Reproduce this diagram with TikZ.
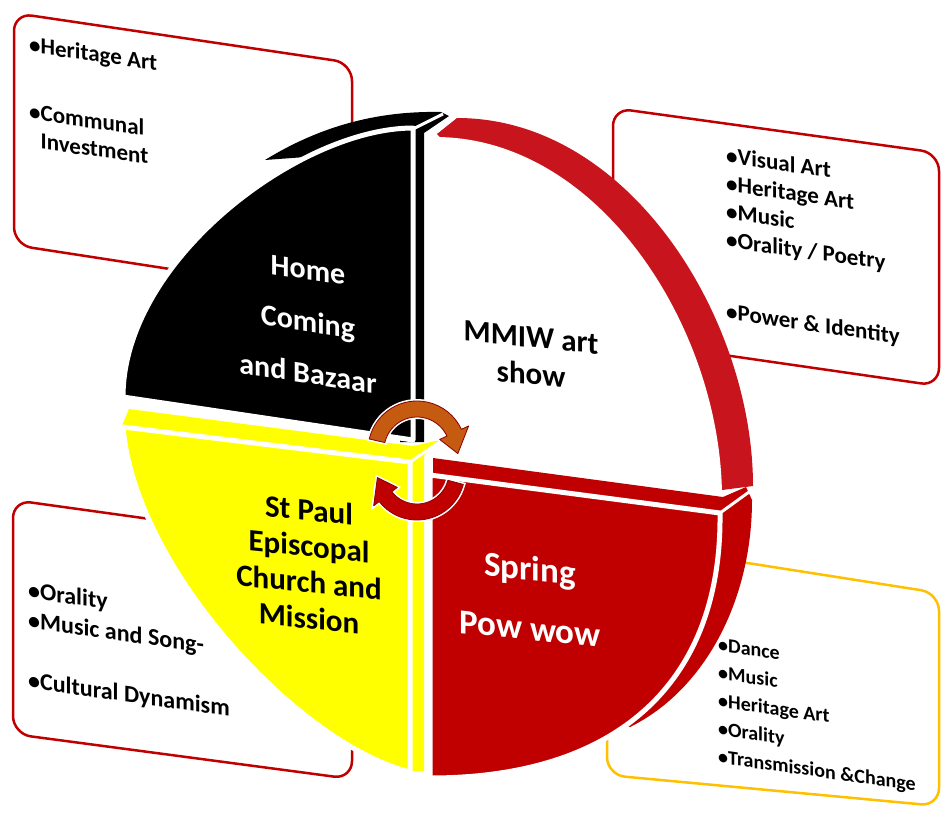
\documentclass[tikz,border=0pt]{standalone}
\usepackage{fontspec}
\setmainfont{Carlito}
\usetikzlibrary{calc}
\definecolor{rd}{HTML}{C00000}
\definecolor{rim}{HTML}{C8141C}
\definecolor{yl}{HTML}{FFFF00}
\definecolor{gd}{HTML}{FFC000}
\definecolor{orr}{HTML}{C55A11}
\definecolor{dkr}{HTML}{8B0000}
\begin{document}
\begin{tikzpicture}[x=1pt,y=-1pt,
  infobox/.style={draw=rd, line width=2.5pt, fill=white, rounded corners=18pt},
  face/.style={draw=white, line width=5pt, line join=round},
  edgeline/.style={draw=white, line width=3pt},
  boxtext/.style={align=left, anchor=north west, inner sep=0pt, yslant=-0.14,
    font=\bfseries\fontsize{23}{28}\selectfont},
  lbl/.style={align=center, inner sep=0pt, yslant=-0.1},
  arrowshape/.style={preaction={draw=white, line width=4pt}, draw=dkr, line width=0.8pt, line join=round}
]
\useasboundingbox (0,0) rectangle (942,817);

% ---------- info boxes ----------
\draw[infobox] (14,13) -- (352,63) -- (352,297) -- (14,245) -- cycle;
\draw[infobox] (613,108) -- (939,153) -- (939,386) -- (613,339) -- cycle;
\draw[infobox] (13,500) -- (352,547) -- (352,779) -- (13,734) -- cycle;
\draw[infobox, draw=gd] (607,541) -- (939,593) -- (939,806) -- (607,775) -- cycle;

\node[boxtext] (t1) at (29,36) {•Heritage Art\\[39pt]•Communal\\\phantom{•}Investment};
\node[boxtext] (t2) at (726,147) {•Visual Art\\•Heritage Art\\•Music\\•Orality / Poetry\\[44pt]•Power \& Identity};
\node[boxtext, font=\bfseries\fontsize{24}{28}\selectfont] (t3) at (28,581) {•Orality\\[2pt]•Music and Song-\\[32pt]•Cultural Dynamism};
\node[boxtext, font=\bfseries\fontsize{20}{28}\selectfont] (t4) at (718,638) {•Dance\\•Music\\•Heritage Art\\•Orality\\•Transmission \&Change};

% ---------- white quadrant (MMIW) with red rim ----------
\fill[rim] (437,134) -- (457,118) .. controls (630,118) and (753,320) .. (753,486) -- (722,490) -- (600,300) -- cycle;
\fill[white] (433,460) -- (435,137) .. controls (600,137) and (722,330) .. (722,498) -- cycle;

% ---------- red quadrant (Spring Pow wow) ----------
\fill[rd] (433,458) -- (723,497) -- (746,487) -- (752,500) .. controls (752,600) and (705,690) .. (630,727) -- (560,700) -- (433,490) -- cycle;
\path[face, fill=rd] (430,475) -- (720,513) .. controls (722,680) and (620,778) .. (430,778) -- cycle;
\draw[edgeline] (720,513) -- (749,492);

% ---------- black quadrant (Home Coming) ----------
\fill[black] (265,160) .. controls (330,120) and (390,111) .. (441,112) -- (449,116) -- (424,133) -- (424,442) -- (400,442) -- (400,150) -- cycle;
\path[face, fill=black] (413,440) -- (413,128) .. controls (300,128) and (123,260) .. (123,397) -- cycle;
\draw[edgeline] (413,129) -- (443,114);

% ---------- yellow quadrant (St Paul) ----------
\fill[yl] (129,409) -- (413,446) -- (440,440) -- (424,455) -- (424,771) -- (400,771) -- (400,470) -- (121,428) -- cycle;
\path[face, fill=yl] (123,427) -- (410,462) -- (410,772) .. controls (300,745) and (135,570) .. (123,427) -- cycle;
\draw[edgeline] (410,462) -- (438,443);

% ---------- circular arrows ----------
\coordinate (c1) at (417,450);
\coordinate (c2) at (417,472);
\path[arrowshape, fill=orr]
  ($(c1)+(193:49)$) arc[start angle=193, end angle=335, radius=49]
  -- ($(c1)+(335:57)$) -- ($(c1)+(5:41)$) -- ($(c1)+(335:25)$)
  -- ($(c1)+(335:33)$) arc[start angle=335, end angle=193, radius=33] -- cycle;
\path[arrowshape, fill=rd]
  ($(c2)+(15:48)$) arc[start angle=15, end angle=142, radius=48]
  -- ($(c2)+(142:55)$) -- ($(c2)+(172:40)$) -- ($(c2)+(142:25)$)
  -- ($(c2)+(142:32)$) arc[start angle=142, end angle=15, radius=32] -- cycle;

% ---------- quadrant labels ----------
\node[lbl, yslant=-0.05, text=white, font=\bfseries\fontsize{30}{52}\selectfont] (home) at (308,322)
  {Home\\Coming\\and Bazaar};
\node[lbl, font=\bfseries\fontsize{31}{37}\selectfont] (mmiw) at (531,356)
  {MMIW art\\show};
\node[lbl, font=\bfseries\fontsize{31}{36}\selectfont] (paul) at (309,564)
  {St Paul\\Episcopal\\Church and\\Mission};
\node[lbl, text=white, font=\bfseries\fontsize{35}{60}\selectfont] (spring) at (530,598)
  {Spring\\Pow wow};
\end{tikzpicture}
\end{document}
